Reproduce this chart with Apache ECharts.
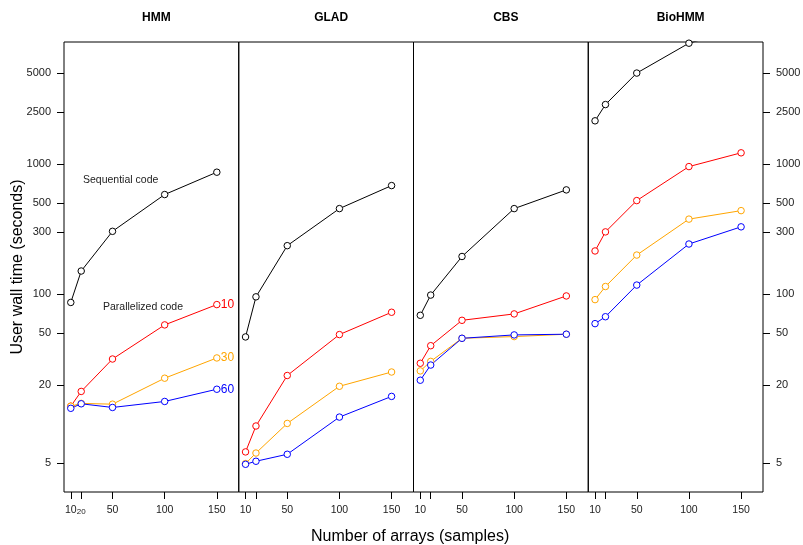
<!DOCTYPE html>
<html>
<head>
<meta charset="utf-8">
<script src="https://cdn.jsdelivr.net/npm/echarts@6/dist/echarts.min.js"></script>
<style>
  html, body { margin: 0; padding: 0; background: #fff; }
  #chart { width: 803px; height: 545px; }
</style>
</head>
<body>
<div id="chart"></div>
<script>
// number of arrays on the x axis
var arrayCounts = [10, 20, 50, 100, 150];
var methods = ['HMM', 'GLAD', 'CBS', 'BioHMM'];

// wall time in seconds, one row per method (HMM, GLAD, CBS, BioHMM)
var sequentialTimes = [
    [86, 150, 303, 581, 863],
    [46.7, 95, 235, 453, 681],
    [68.5, 98, 194, 453, 631],
    [2143, 2858, 4990, 8470, 11000]
];
var nodes10Times = [
    [13.7, 17.8, 31.6, 57.8, 82.8],
    [6.1, 9.65, 23.6, 48.7, 72.3],
    [29.3, 40, 62.7, 70.2, 96.5],
    [214, 300, 522, 953, 1216]
];
var nodes30Times = [
    [13.7, 14.4, 14.2, 22.5, 32.2],
    [4.96, 5.98, 10.1, 19.5, 25.1],
    [25.6, 30.3, 45.6, 47, 49],
    [90.4, 114, 199, 376, 437]
];
var nodes60Times = [
    [13.2, 14.3, 13.4, 14.9, 18.5],
    [4.9, 5.17, 5.85, 11.3, 16.3],
    [21.7, 28.4, 45.6, 48.4, 49],
    [59.1, 66.8, 117, 242, 328]
];
var yTicks = [5, 20, 50, 100, 300, 500, 1000, 2500, 5000];
var xTicks = [10, 20, 50, 100, 150];

var myChart = echarts.init(document.getElementById('chart'));

var plotLeft = 64, plotRight = 763, plotTop = 42, plotBottom = 492;
var panelW = (plotRight - plotLeft) / methods.length;

var lines = [
    { name: 'Sequential', data: sequentialTimes, color: '#000000', tag: '' },
    { name: '10', data: nodes10Times, color: '#ff0000', tag: '10' },
    { name: '30', data: nodes30Times, color: '#ffa500', tag: '30' },
    { name: '60', data: nodes60Times, color: '#0000ff', tag: '60' }
];

var grids = [], xAxes = [], yAxes = [], series = [], titles = [];

methods.forEach(function (m, i) {
    grids.push({
        left: plotLeft + panelW * i,
        top: plotTop,
        width: panelW,
        height: plotBottom - plotTop,
        outerBoundsMode: 'none',
        containLabel: false,
        show: true,
        borderColor: '#000',
        borderWidth: 1,
        backgroundColor: 'transparent'
    });
    titles.push({
        text: m,
        left: plotLeft + panelW * i + panelW / 2,
        top: 7,
        textAlign: 'center',
        textStyle: { fontFamily: 'Liberation Sans', fontSize: 12, fontWeight: 'bold', color: '#000' }
    });
    xAxes.push({
        type: 'value',
        gridIndex: i,
        min: 3.5,
        max: 171,
        splitLine: { show: false },
        axisLine: { show: false },
        axisTick: { show: true, inside: false, length: 7, customValues: xTicks, lineStyle: { color: '#000' } },
        axisLabel: {
            customValues: i === 0 ? xTicks : [10, 50, 100, 150],
            margin: 13,
            fontFamily: 'Liberation Sans',
            fontSize: 10.5,
            color: '#222',
            formatter: function (v) { return v === 20 ? '{s|20}' : String(v); },
            rich: { s: { fontSize: 8, fontFamily: 'Liberation Sans', color: '#222', padding: [3, 0, 0, 0] } }
        }
    });
    var yAx = {
        type: 'log',
        logBase: 10,
        gridIndex: i,
        min: 3,
        max: 8650,
        splitLine: { show: false },
        axisLine: { show: false },
        axisTick: { show: false },
        axisLabel: { show: false }
    };
    if (i === 0 || i === methods.length - 1) {
        yAx.position = i === 0 ? 'left' : 'right';
        yAx.axisTick = { show: true, inside: false, length: 7, customValues: yTicks, lineStyle: { color: '#000' } };
        yAx.axisLabel = {
            show: true, customValues: yTicks, margin: 13,
            fontFamily: 'Liberation Sans', fontSize: 11, color: '#222',
            formatter: function (v) { return String(Math.round(v)); }
        };
    }
    if (i === 0) {
        yAx.name = 'User wall time (seconds)';
        yAx.nameLocation = 'middle';
        yAx.nameGap = 38;
        yAx.nameMoveOverlap = false;
        yAx.nameTextStyle = { fontFamily: 'Liberation Sans', fontSize: 16, color: '#000' };
    }
    yAxes.push(yAx);

    lines.forEach(function (s) {
        series.push({
            type: 'line',
            name: s.name,
            xAxisIndex: i,
            yAxisIndex: i,
            data: arrayCounts.map(function (x, k) { return [x, s.data[i][k]]; }),
            symbol: 'circle',
            symbolSize: 6.5,
            clip: true,
            lineStyle: { color: s.color, width: 1 },
            // hollow markers: white fill, thin coloured ring
            itemStyle: { color: '#fff', borderColor: s.color, borderWidth: 1 },
            endLabel: {
                show: i === 0 && s.tag !== '',
                formatter: s.tag,
                color: s.color,
                distance: 4,
                fontFamily: 'Liberation Sans',
                fontSize: 12
            }
        });
    });
});

var option = {
    animation: false,
    backgroundColor: '#fff',
    title: titles,
    grid: grids,
    xAxis: xAxes,
    yAxis: yAxes,
    series: series,
    graphic: [
        {
            type: 'text', left: 83, top: 175,
            style: { text: 'Sequential code', fontFamily: 'Liberation Sans', fontSize: 10.5, fill: '#222' }
        },
        {
            type: 'text', left: 103, top: 302,
            style: { text: 'Parallelized code', fontFamily: 'Liberation Sans', fontSize: 10.5, fill: '#222' }
        },
        {
            type: 'text', left: 311, top: 529,
            style: { text: 'Number of arrays (samples)', fontFamily: 'Liberation Sans', fontSize: 16, fill: '#000' }
        }
    ]
};

option && myChart.setOption(option);
</script>
</body>
</html>
